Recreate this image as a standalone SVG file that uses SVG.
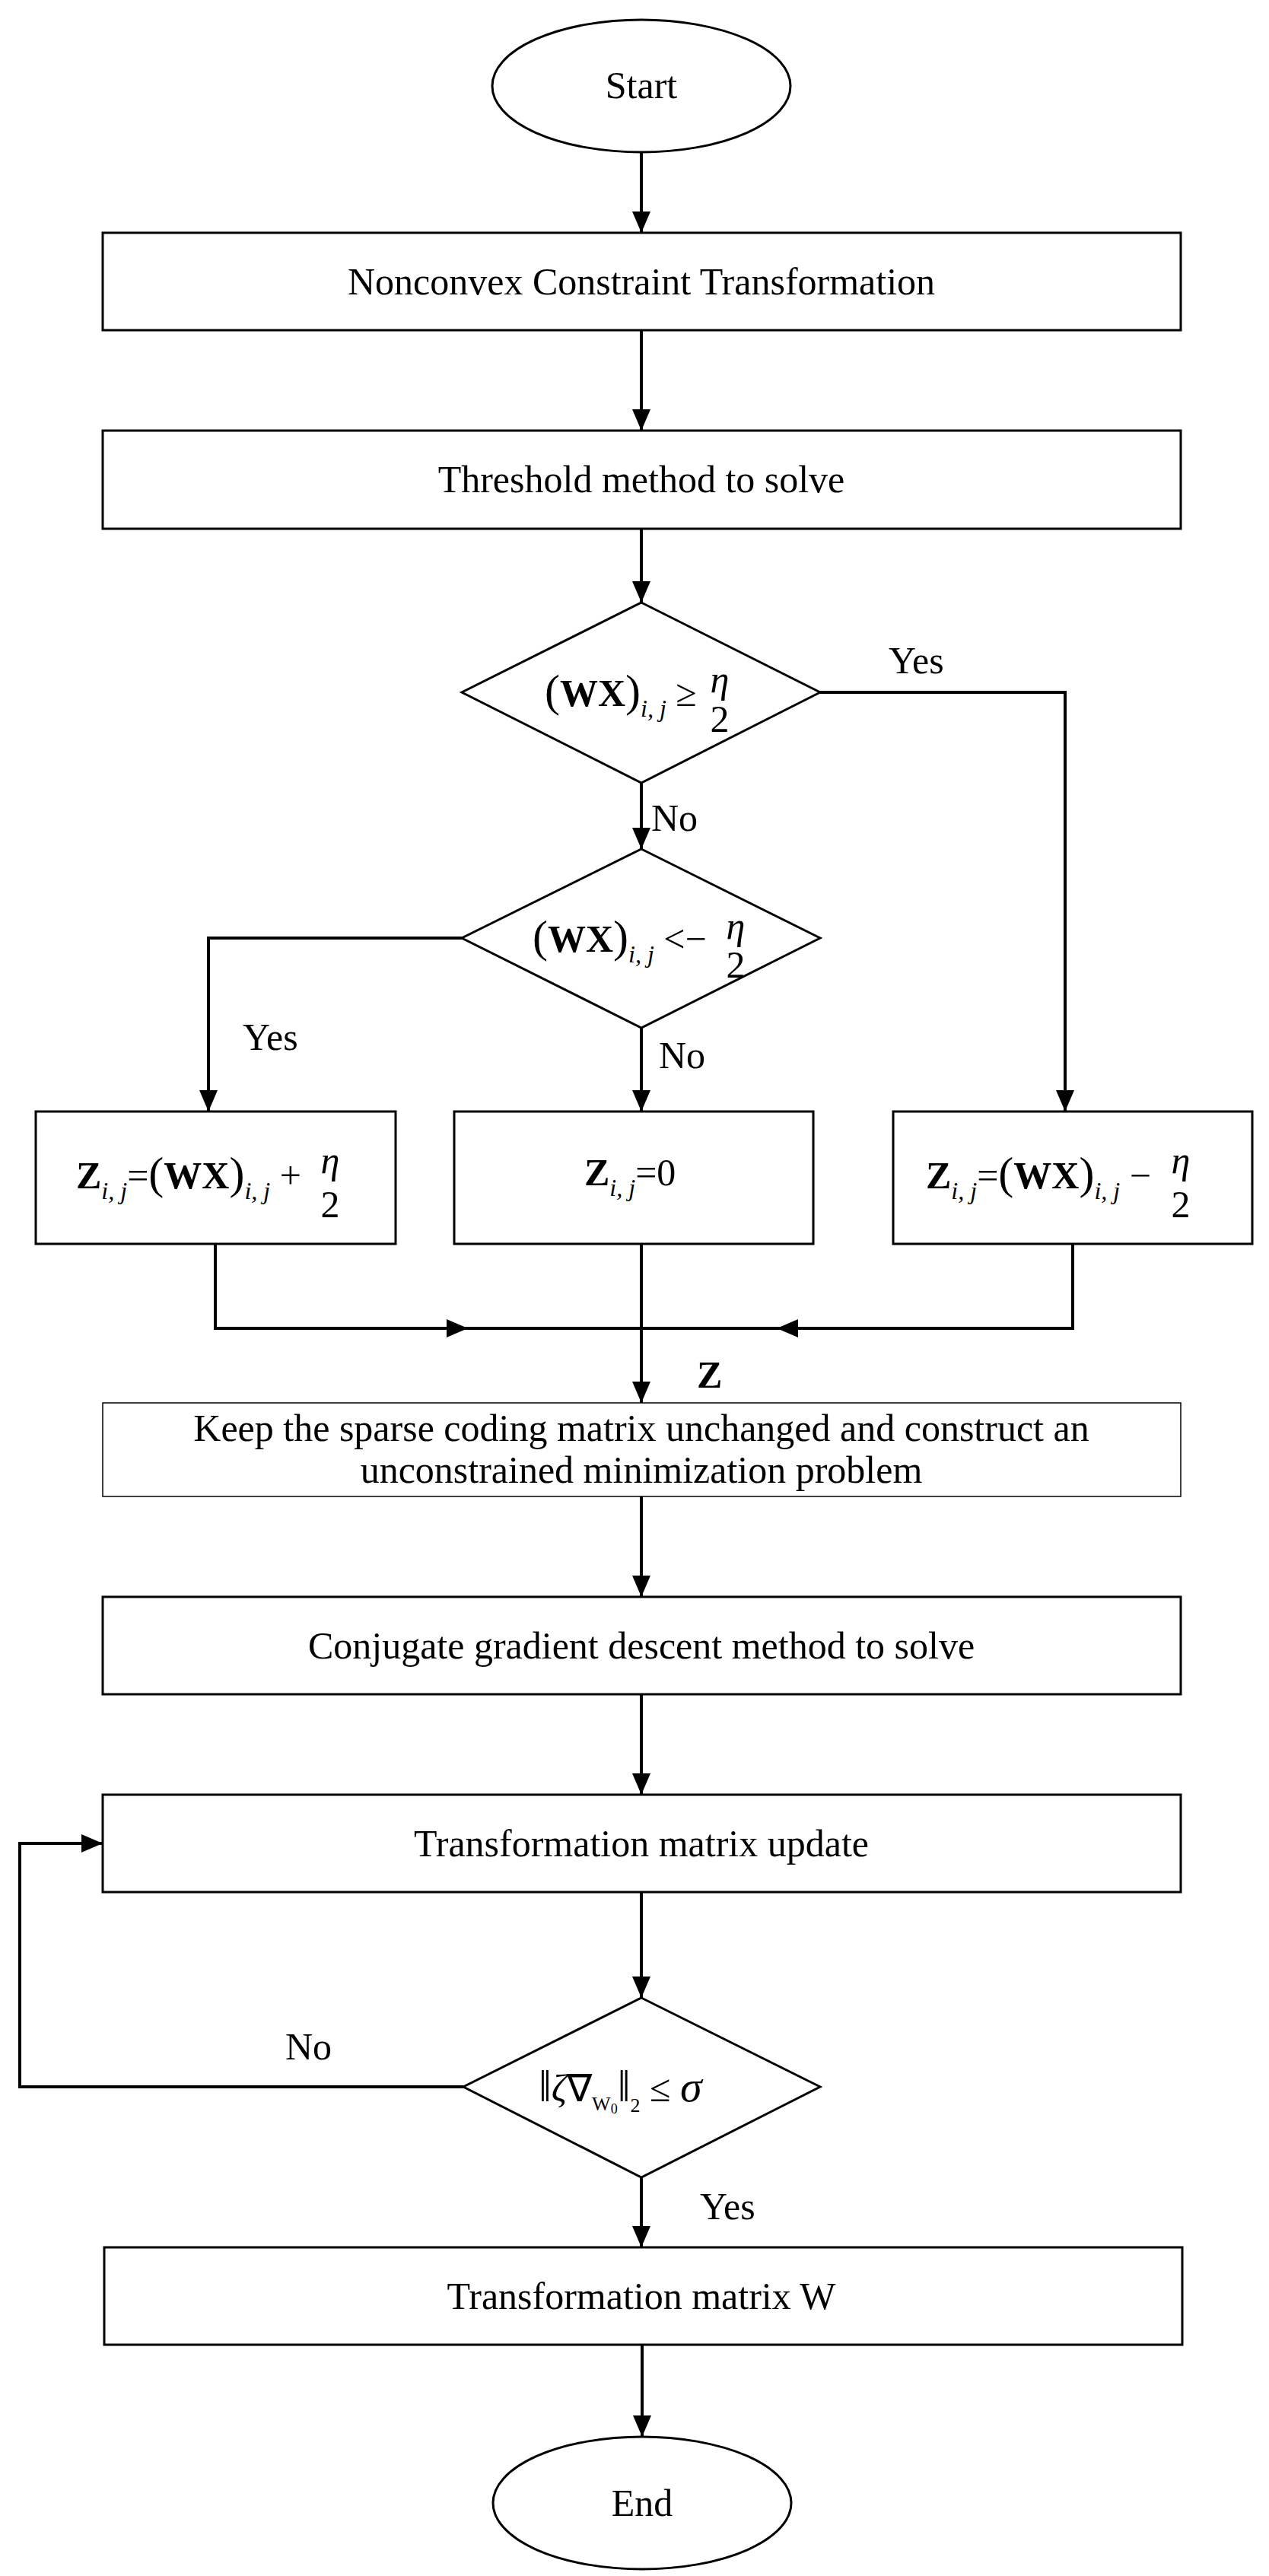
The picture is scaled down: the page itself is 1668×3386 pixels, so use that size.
<svg xmlns="http://www.w3.org/2000/svg" width="1668" height="3386" viewBox="0 0 1668 3386">
<style>
.s{fill:#fff;stroke:#000;stroke-width:3}
.c{fill:none;stroke:#000;stroke-width:4}
text{font-family:"Liberation Serif","Times New Roman",serif;font-size:50px;fill:#000}
.m{text-anchor:middle}
.b{font-weight:bold}
.i{font-style:italic}
.p{font-size:60px}
.sub{font-size:32px;font-style:italic}
</style>
<defs>
<marker id="ah" viewBox="0 0 28 24" refX="28" refY="12" markerWidth="28" markerHeight="24" markerUnits="userSpaceOnUse" orient="auto"><path d="M0,0L28,12L0,24z" fill="#000"/></marker>
</defs>
<rect width="1668" height="3386" fill="#fff"/>
<g id="connectors">
<path class="c" d="M843,200V306" marker-end="url(#ah)"/>
<path class="c" d="M843,434V566" marker-end="url(#ah)"/>
<path class="c" d="M843,695V792" marker-end="url(#ah)"/>
<path class="c" d="M1078,910H1400V1461" marker-end="url(#ah)"/>
<path class="c" d="M843,1029V1116" marker-end="url(#ah)"/>
<path class="c" d="M607,1233H274V1461" marker-end="url(#ah)"/>
<path class="c" d="M843,1351V1461" marker-end="url(#ah)"/>
<path class="c" d="M283,1635V1746H615" marker-end="url(#ah)"/>
<path class="c" d="M600,1746H843"/>
<path class="c" d="M1410,1635V1746H1021" marker-end="url(#ah)"/>
<path class="c" d="M1035,1746H843"/>
<path class="c" d="M843,1635V1844" marker-end="url(#ah)"/>
<path class="c" d="M843,1967V2099" marker-end="url(#ah)"/>
<path class="c" d="M843,2227V2359" marker-end="url(#ah)"/>
<path class="c" d="M843,2487V2626" marker-end="url(#ah)"/>
<path class="c" d="M609,2743H26V2423H135" marker-end="url(#ah)"/>
<path class="c" d="M843,2862V2954" marker-end="url(#ah)"/>
<path class="c" d="M844,3082V3203" marker-end="url(#ah)"/>
<text x="1168" y="885">Yes</text>
<text x="856" y="1092">No</text>
<text x="319" y="1380">Yes</text>
<text x="866" y="1404">No</text>
<text x="916" y="1824" class="b">Z</text>
<text x="375" y="2707">No</text>
<text x="920" y="2917">Yes</text>
</g>
<g id="start"><ellipse class="s" cx="843" cy="113" rx="196" ry="87"/><text x="843" y="129" class="m">Start</text></g>
<g id="n1"><rect class="s" x="135" y="306" width="1417" height="128"/><text x="843" y="387" class="m">Nonconvex Constraint Transformation</text></g>
<g id="n2"><rect class="s" x="135" y="566" width="1417" height="129"/><text x="843" y="647" class="m">Threshold method to solve</text></g>
<g id="d1"><path class="s" d="M843,792L1078,910L843,1029L607,910z"/>
<text x="716" y="928"><tspan class="p">(</tspan><tspan class="b">WX</tspan><tspan class="p">)</tspan><tspan class="sub" dy="14">i, j</tspan><tspan dy="-14"> ≥</tspan></text>
<text x="946" y="910" class="m i">η</text><text x="946" y="962" class="m">2</text></g>
<g id="d2"><path class="s" d="M843,1116L1078,1233L843,1351L607,1233z"/>
<text x="700" y="1251"><tspan class="p">(</tspan><tspan class="b">WX</tspan><tspan class="p">)</tspan><tspan class="sub" dy="14">i, j</tspan><tspan dy="-14"> &lt;−</tspan></text>
<text x="967" y="1234" class="m i">η</text><text x="967" y="1285" class="m">2</text></g>
<g id="n3"><rect class="s" x="47" y="1461" width="473" height="174"/>
<text x="100" y="1562"><tspan class="b">Z</tspan><tspan class="sub" dy="14">i, j</tspan><tspan dy="-14">=</tspan><tspan class="p">(</tspan><tspan class="b">WX</tspan><tspan class="p">)</tspan><tspan class="sub" dy="14">i, j</tspan><tspan dy="-14"> +</tspan></text>
<text x="434" y="1542" class="m i">η</text><text x="434" y="1600" class="m">2</text></g>
<g id="n4"><rect class="s" x="597" y="1461" width="472" height="174"/>
<text x="768" y="1558"><tspan class="b">Z</tspan><tspan class="sub" dy="14">i, j</tspan><tspan dy="-14">=0</tspan></text></g>
<g id="n5"><rect class="s" x="1174" y="1461" width="472" height="174"/>
<text x="1217" y="1562"><tspan class="b">Z</tspan><tspan class="sub" dy="14">i, j</tspan><tspan dy="-14">=</tspan><tspan class="p">(</tspan><tspan class="b">WX</tspan><tspan class="p">)</tspan><tspan class="sub" dy="14">i, j</tspan><tspan dy="-14"> −</tspan></text>
<text x="1552" y="1542" class="m i">η</text><text x="1552" y="1600" class="m">2</text></g>
<g id="n6"><rect x="135" y="1844" width="1417" height="123" fill="#fff" stroke="#000" stroke-width="1.5"/>
<text x="843" y="1894" class="m">Keep the sparse coding matrix unchanged and construct an</text>
<text x="843" y="1949" class="m">unconstrained minimization problem</text></g>
<g id="n7"><rect class="s" x="135" y="2099" width="1417" height="128"/><text x="843" y="2180" class="m">Conjugate gradient descent method to solve</text></g>
<g id="n8"><rect class="s" x="135" y="2359" width="1417" height="128"/><text x="843" y="2440" class="m">Transformation matrix update</text></g>
<g id="d3"><path class="s" d="M843,2626L1078,2743L843,2862L609,2743z"/>
<text x="708" y="2762"><tspan font-size="60">‖</tspan><tspan class="i">ζ</tspan>∇<tspan font-size="26" dy="12">W</tspan><tspan font-size="18" dy="4">0</tspan><tspan font-size="60" dy="-16">‖</tspan><tspan font-size="26" dy="14">2</tspan><tspan dy="-14"> ≤ </tspan><tspan class="i" font-size="58">σ</tspan></text></g>
<g id="n9"><rect class="s" x="137" y="2954" width="1417" height="128"/><text x="843" y="3035" class="m">Transformation matrix W</text></g>
<g id="end"><ellipse class="s" cx="844" cy="3290" rx="196" ry="87"/><text x="844" y="3307" class="m">End</text></g>
</svg>
